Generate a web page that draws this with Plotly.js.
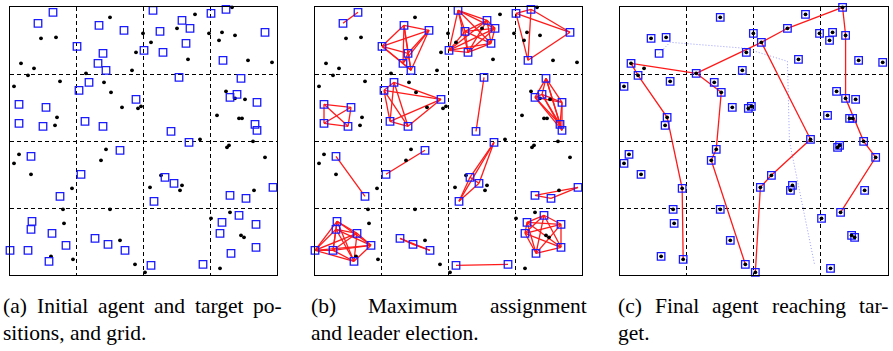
<!DOCTYPE html>
<html><head><meta charset="utf-8">
<script src="https://cdn.plot.ly/plotly-3.0.1.min.js"></script>
<style>html,body{margin:0;padding:0;background:#fff}</style>
</head><body><div id="chart" style="width:893px;height:351px"></div>
<script>
// Targets (squares) for panels (a) and (b), with the group each belongs to in (b)
const targetX = [28,43, 89,114,67,93,88,96, 9,36,9,33, 79,69,126,75,93, 143,172,150,180,176,134,153, 201,216,255,213, 169,161, 231,227,220,247,245,247, 179,155,164,144, 220,236,263, 21,50, 71,110, 22,21,42,56,0,18,39, 85,98,115, 141,193, 229,212,246,210,246,221];
const targetY = [16,5, 18,23,39,46,56,63, 97,100,116,119, 75,83,92,114,119, 3,13,24,21,36,43,45, 6,2,25,53, 70,124, 71,87,90,95,117,123, 135,170,176,194, 188,191,180, 149,189, 167,143, 214,222,226,238,243,243,254, 231,237,243, 258,257, 208,215,217,226,240,246];
const targetGroup = [1,1, 2,2,2,2,2,2, 3,3,3,3, 4,4,4,4,4, 5,5,5,5,5,5,5, 6,6,6,6, 7,7, 8,8,8,8,8,8, 9,9,9,9, 10,10,10, 11,11, 12,12, 13,13,13,13,13,13,13, 14,14,14, 15,15, 16,16,16,16,16,16];
// Agents (dots)
const agentX = [100,133,31,46,126,11,24,18,76,122,50,4,94,101,112,128,131,47,45, 185,222,167,199,212,225,209,141,178,238,262,216,225,235,207,229,232,190,243, 9,4,21,62,96,91,53,100,54,41,63,110,125,135, 217,219,255,151,172,170,140,244,220,201,231,234,210];
const agentY = [10,26,31,30,45,56,61,68,66,63,74,79,75,85,100,101,99,110,118, 7,0,21,26,25,28,33,35,52,53,55,84,91,92,108,111,111,132,134, 147,156,167,181,142,153,202,202,216,249,252,233,257,265, 140,138,150,168,178,183,180,183,205,211,228,230,261];
// Panel (c): agents without a square, and an unoccupied square
const finalMissing = [6];
const emptyX = [39], emptyY = [46];
// Panel (c): leader paths (red)
const pathsX = [[76,11,18,47,62,63],[76,101,96,91,125],[76,141,167,222,225,225,243,255,220],[141,190,151,140,135]];
const pathsY = [[66,56,68,110,181,252],[66,85,142,153,257],[66,35,21,0,28,91,134,150,205],[35,132,168,180,265]];
// Panel (c): dotted trajectory
const dottedX = [39,50,125,167,169,194];
const dottedY = [46,35,41,54,134,257];
// Grid
const gridX = [66.75,133.5,200.25];
const gridY = [66.9,133.8,200.7];
const W = 267, H = 267.7;
// Captions: [first line words, second line]
const captions = [
  {words:['(a)','Initial','agent','and','target','po-'], line2:'sitions, and grid.', left:2, right:281},
  {words:['(b)','Maximum','assignment'], line2:'and leader election.', left:310, right:586},
  {words:['(c)','Final','agent','reaching','tar-'], line2:'get.', left:617, right:887}
];

const BLUE = '#1a1aff';
function sq(xs, ys, ax){
  return {x:xs, y:ys, xaxis:'x'+ax, yaxis:'y'+ax, mode:'markers', type:'scatter', cliponaxis:false,
    marker:{symbol:'square-open', size:7.5, color:BLUE, line:{width:1.3, color:BLUE}}, hoverinfo:'none'};
}
function dots(xs, ys, ax){
  return {x:xs, y:ys, xaxis:'x'+ax, yaxis:'y'+ax, mode:'markers', type:'scatter', cliponaxis:false,
    marker:{symbol:'circle', size:3.8, color:'#000'}, hoverinfo:'none'};
}
const traces = [];
// panel a
traces.push(dots(agentX, agentY, ''));
traces.push(sq(targetX, targetY, ''));
// panel b: complete graph within each group
const ex = [], ey = [];
for (let i=0;i<targetX.length;i++) for (let j=i+1;j<targetX.length;j++){
  if (targetGroup[i]===targetGroup[j]) { ex.push(targetX[i],targetX[j],null); ey.push(targetY[i],targetY[j],null); }
}
traces.push({x:ex, y:ey, xaxis:'x2', yaxis:'y2', mode:'lines', type:'scatter', cliponaxis:false,
  line:{color:'#ff1a1a', width:1.3}, hoverinfo:'none'});
traces.push(dots(agentX, agentY, '2'));
traces.push(sq(targetX, targetY, '2'));
// panel c
traces.push({x:dottedX, y:dottedY, xaxis:'x3', yaxis:'y3', mode:'lines', type:'scatter', cliponaxis:false,
  line:{color:'#9a9aff', width:1, dash:'1px,2px'}, hoverinfo:'none'});
const px = [], py = [];
pathsX.forEach((p,k)=>{ p.forEach((v,i)=>{px.push(v); py.push(pathsY[k][i]);}); px.push(null); py.push(null); });
traces.push({x:px, y:py, xaxis:'x3', yaxis:'y3', mode:'lines', type:'scatter', cliponaxis:false,
  line:{color:'#ff1a1a', width:1.3}, hoverinfo:'none'});
const cx = [], cy = [];
agentX.forEach((v,i)=>{ if (!finalMissing.includes(i)) { cx.push(v); cy.push(agentY[i]); } });
traces.push(sq(cx.concat(emptyX), cy.concat(emptyY), '3'));
traces.push(dots(agentX, agentY, '3'));

function xa(d){ return {domain:d, range:[0,W], tickvals:gridX, showticklabels:false, ticks:'', showgrid:true,
  gridcolor:'#000', gridwidth:1, griddash:'4px,3px', zeroline:false, showline:true, mirror:true, linecolor:'#000', linewidth:1.2, fixedrange:true}; }
function ya(anchor){ return {domain:[1-275/351, 1-7.3/351], anchor:anchor, range:[H,0], tickvals:gridY, showticklabels:false, ticks:'', showgrid:true,
  gridcolor:'#000', gridwidth:1, griddash:'4px,3px', zeroline:false, showline:true, mirror:true, linecolor:'#000', linewidth:1.2, fixedrange:true}; }

const FS = 21.5;
const FAM = '"Liberation Serif", "DejaVu Serif", serif';
const F = {family:FAM, size:FS, color:'#000'};
function ann(text, xpx, ypx){
  return {text:text, xref:'paper', yref:'paper', x:xpx/893, y:1-ypx/351, xanchor:'left', yanchor:'middle', showarrow:false, font:F};
}
// justify first caption lines
const ctx = document.createElement('canvas').getContext('2d');
ctx.font = FS + 'px "Liberation Serif"';
const annotations = [];
captions.forEach(c=>{
  const widths = c.words.map(w=>ctx.measureText(w).width);
  const total = widths.reduce((a,b)=>a+b,0);
  const gap = (c.right - c.left - total)/(c.words.length-1);
  let x = c.left;
  c.words.forEach((w,i)=>{ annotations.push(ann(w, x-1, 306)); x += widths[i] + gap; });
  annotations.push(ann(c.line2, c.left-1, 333));
});

const layout = {
  width:893, height:351, margin:{l:0,r:0,t:0,b:0}, showlegend:false,
  paper_bgcolor:'#fff', plot_bgcolor:'#fff',
  xaxis: Object.assign(xa([10/893, 277/893]), {anchor:'y'}),
  yaxis: ya('x'),
  xaxis2: Object.assign(xa([315/893, 582/893]), {anchor:'y2'}),
  yaxis2: ya('x2'),
  xaxis3: Object.assign(xa([620/893, 887.7/893]), {anchor:'y3'}),
  yaxis3: ya('x3'),
  annotations: annotations
};
Plotly.newPlot('chart', traces, layout, {staticPlot:true, displayModeBar:false});
</script></body></html>
